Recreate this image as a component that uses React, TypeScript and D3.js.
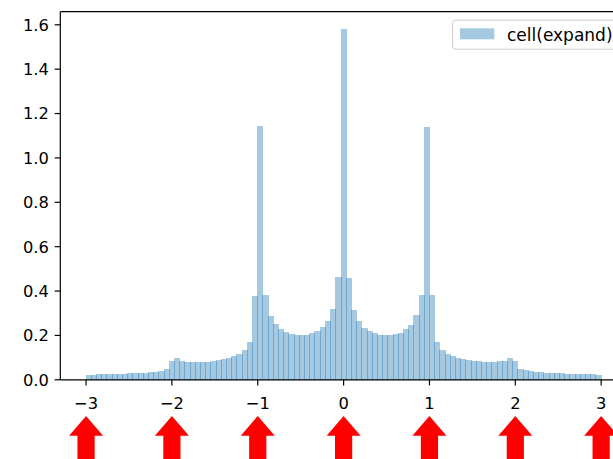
import React, { useEffect, useRef } from 'react'
import * as d3 from 'd3'

// histogram of cell(expand): 99 bins between -3 and 3
const binLo = -3
const binHi = 3
const density = [
  0.0225, 0.0225, 0.027, 0.027, 0.027, 0.027, 0.027, 0.027, 0.0315, 0.0315,
  0.0315, 0.0315, 0.036, 0.036, 0.0405, 0.0495, 0.0856, 0.099, 0.0856, 0.081,
  0.081, 0.081, 0.081, 0.081, 0.0856, 0.09, 0.0946, 0.099, 0.108, 0.117,
  0.135, 0.171, 0.378, 1.144, 0.383, 0.288, 0.252, 0.23, 0.216, 0.207,
  0.203, 0.203, 0.203, 0.212, 0.221, 0.239, 0.266, 0.32, 0.464, 1.58,
  0.459, 0.315, 0.266, 0.234, 0.221, 0.212, 0.203, 0.203, 0.203, 0.207,
  0.212, 0.23, 0.248, 0.293, 0.383, 1.14, 0.383, 0.171, 0.135, 0.117,
  0.108, 0.099, 0.0946, 0.09, 0.0856, 0.0856, 0.081, 0.081, 0.081, 0.0856,
  0.0856, 0.099, 0.0856, 0.0495, 0.045, 0.0405, 0.036, 0.036, 0.0315, 0.0315,
  0.0315, 0.0315, 0.027, 0.027, 0.027, 0.027, 0.027, 0.027, 0.0225
]
const xTicks = [-3, -2, -1, 0, 1, 2, 3]
const yTicks = [0, 0.2, 0.4, 0.6, 0.8, 1.0, 1.2, 1.4, 1.6]
const arrowsAt = [-3, -2, -1, 0, 1, 2, 3]
const legendLabel = 'cell(expand)'

const width = 613
const height = 459
const font = '"DejaVu Sans", sans-serif'
const barColor = '#1f77b4'

export default function App() {
  const ref = useRef<SVGSVGElement>(null)

  useEffect(() => {
    document.body.style.margin = '0'
    const svg = d3.select(ref.current)
    svg.selectAll('*').remove()

    const left = 60.3
    const top = 11.7
    const bottom = 379.8
    const pad = 0.05 * (binHi - binLo)

    const x = d3.scaleLinear()
      .domain([binLo - pad, binHi + pad])
      .range([left, left + (binHi - binLo + 2 * pad) * 85.85])
    const yMax = (d3.max(density) as number) * 1.05
    const y = d3.scaleLinear().domain([0, yMax]).range([bottom, top])

    const binW = (binHi - binLo) / density.length

    // bars (snapped like matplotlib, so neighbours overlap a pixel)
    svg.append('g')
      .selectAll('rect')
      .data(density)
      .enter()
      .append('rect')
      .attr('x', (d, i) => Math.floor(x(binLo + i * binW)))
      .attr('width', (d, i) => Math.ceil(x(binLo + (i + 1) * binW)) - Math.floor(x(binLo + i * binW)))
      .attr('y', d => Math.round(y(d)))
      .attr('height', d => bottom - Math.round(y(d)))
      .attr('fill', barColor)
      .attr('fill-opacity', 0.4)
      .attr('shape-rendering', 'crispEdges')

    // spines
    const right = x.range()[1]
    svg.append('line')
      .attr('x1', left).attr('x2', left).attr('y1', top).attr('y2', bottom)
      .attr('stroke', '#000').attr('stroke-width', 1.2)
    svg.append('line')
      .attr('x1', left).attr('x2', right).attr('y1', bottom).attr('y2', bottom)
      .attr('stroke', '#000').attr('stroke-width', 1.2)
    svg.append('line')
      .attr('x1', left).attr('x2', right).attr('y1', top).attr('y2', top)
      .attr('stroke', '#000').attr('stroke-width', 1.2)

    // y ticks
    const yt = svg.append('g')
    yt.selectAll('line')
      .data(yTicks)
      .enter()
      .append('line')
      .attr('x1', left - 5.6).attr('x2', left)
      .attr('y1', d => y(d)).attr('y2', d => y(d))
      .attr('stroke', '#000').attr('stroke-width', 1.2)
    yt.selectAll('text')
      .data(yTicks)
      .enter()
      .append('text')
      .attr('x', left - 11.4)
      .attr('y', d => y(d) + 5.9)
      .attr('text-anchor', 'end')
      .attr('font-family', font)
      .attr('font-size', 16.3)
      .attr('fill', '#000')
      .text(d => d3.format('.1f')(d))

    // x ticks
    const xt = svg.append('g')
    xt.selectAll('line')
      .data(xTicks)
      .enter()
      .append('line')
      .attr('x1', d => x(d)).attr('x2', d => x(d))
      .attr('y1', bottom).attr('y2', bottom + 5.6)
      .attr('stroke', '#000').attr('stroke-width', 1.2)
    xt.selectAll('text')
      .data(xTicks)
      .enter()
      .append('text')
      .attr('x', d => x(d))
      .attr('y', bottom + 29)
      .attr('text-anchor', 'middle')
      .attr('font-family', font)
      .attr('font-size', 16.3)
      .attr('fill', '#000')
      .text(d => (d < 0 ? '\u2212' + Math.abs(d) : String(d)))

    // red arrows under the axis
    const headTop = 416
    const headBase = 435.7
    svg.append('g')
      .selectAll('path')
      .data(arrowsAt)
      .enter()
      .append('path')
      .attr('d', d => {
        const cx = x(d)
        return `M${cx},${headTop} L${cx + 17},${headBase} L${cx + 8.6},${headBase} L${cx + 8.6},${height + 2}` +
          ` L${cx - 8.6},${height + 2} L${cx - 8.6},${headBase} L${cx - 17},${headBase} Z`
      })
      .attr('fill', '#ff0000')

    // legend
    const lg = svg.append('g')
    lg.append('rect')
      .attr('x', 452.5).attr('y', 20.2)
      .attr('width', 180).attr('height', 29)
      .attr('rx', 3)
      .attr('fill', '#fff').attr('fill-opacity', 0.8)
      .attr('stroke', '#cccccc').attr('stroke-width', 1)
    lg.append('rect')
      .attr('x', 460).attr('y', 28.3)
      .attr('width', 34.3).attr('height', 11)
      .attr('fill', barColor).attr('fill-opacity', 0.4)
    lg.append('text')
      .attr('x', 507)
      .attr('y', 40.5)
      .attr('font-family', font)
      .attr('font-size', 17)
      .attr('fill', '#000')
      .text(legendLabel)
  }, [])

  return (
    <svg ref={ref} width={width} height={height} style={{ display: 'block' }}></svg>
  )
}
